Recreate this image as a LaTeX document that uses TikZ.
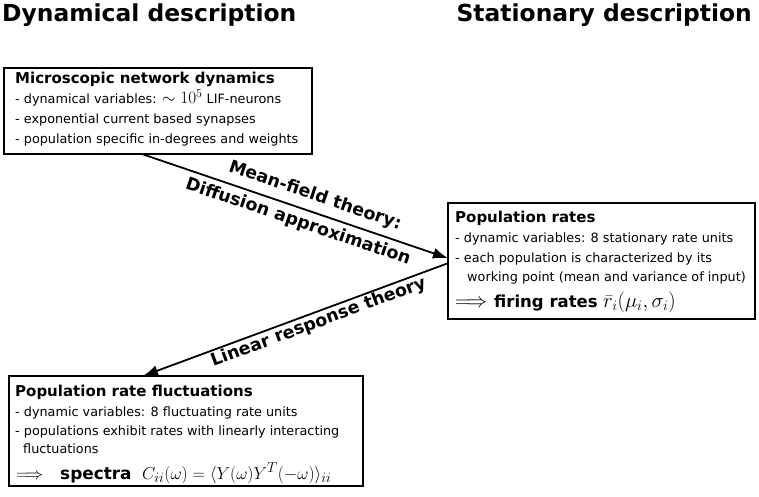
\documentclass[tikz,border=0pt]{standalone}
\usepackage{fontspec}
\setmainfont{DejaVu Sans}
\usetikzlibrary{arrows.meta}
\begin{document}
\begin{tikzpicture}[x=1pt,y=1pt,
  box/.style={draw, line width=1.2pt, inner sep=0pt},
  ln/.style={anchor=base west, inner sep=0pt, font=\fontsize{12.8}{15}\selectfont},
  tl/.style={anchor=base west, inner sep=0pt, font=\bfseries\fontsize{15}{18}\selectfont},
  heading/.style={font=\bfseries\fontsize{23.4}{28}\selectfont, inner sep=0pt},
  conn/.style={line width=1.8pt, -{Latex[length=15pt,width=11pt]}},
  lab/.style={font=\bfseries\fontsize{17.4}{20}\selectfont, inner sep=0pt, anchor=center}]
\useasboundingbox (0,0) rectangle (759,-497);

\node[heading, anchor=base west] (dyn) at (2,-22) {Dynamical description};
\node[heading, anchor=base east] (stat) at (752,-22) {Stationary description};

% boxes
\draw[box] (4,-68) rectangle (312,-154);
\node[inner sep=0pt, minimum width=308pt, minimum height=86pt, anchor=north west] (micro) at (4,-68) {};
\draw[box] (448,-203) rectangle (755,-319);
\node[inner sep=0pt, minimum width=307pt, minimum height=116pt, anchor=north west] (rates) at (448,-203) {};
\draw[box] (9,-376) rectangle (363,-486);
\node[inner sep=0pt, minimum width=354pt, minimum height=110pt, anchor=north west] (fluct) at (9,-376) {};

% box 1 text
\node[tl] (m0) at (15,-84) {Microscopic network dynamics};
\node[ln] (m1) at (15,-104) {- dynamical variables: {\fontsize{18}{18}\selectfont$\sim 10^5$} LIF-neurons};
\node[ln] (m2) at (15,-124) {- exponential current based synapses};
\node[ln] (m3) at (15,-143) {- population specific in-degrees and weights};

% box 2 text
\node[tl] (r0) at (455,-222) {Population rates};
\node[ln] (r1) at (455,-242) {- dynamic variables: 8 stationary rate units};
\node[ln] (r2) at (455,-262) {- each population is characterized by its};
\node[ln] (r3) at (467,-281) {working point (mean and variance of input)};
\node[ln, font=\fontsize{22.5}{24}\selectfont] (r4a) at (455,-307) {$\Longrightarrow$};
\node[ln, font=\bfseries\fontsize{16.5}{20}\selectfont] (r4b) at (494,-307) {firing rates};
\node[ln, font=\fontsize{22.5}{24}\selectfont] (r4c) at (603,-307) {$\bar r_i(\mu_i,\sigma_i)$};

% box 3 text
\node[tl] (f0) at (15,-396) {Population rate fluctuations};
\node[ln] (f1) at (15,-416) {- dynamic variables: 8 fluctuating rate units};
\node[ln] (f2) at (15,-435) {- populations exhibit rates with linearly interacting};
\node[ln] (f3) at (23,-453) {fluctuations};
\node[ln, font=\fontsize{16}{18}\selectfont] (f4a) at (16,-479) {$\Longrightarrow$};
\node[ln, font=\bfseries\fontsize{16.9}{20}\selectfont] (f4b) at (60,-479) {spectra};
\node[ln, font=\fontsize{19}{21}\selectfont] (f4c) at (142,-479) {$C_{ii}(\omega)=\langle Y(\omega)Y^T(-\omega)\rangle_{ii}$};

% connectors
\coordinate (a1s) at ([xshift=139pt]micro.south west);
\coordinate (a1e) at ([yshift=3pt]rates.west);
\coordinate (a2s) at ([yshift=-2pt]rates.west);
\coordinate (a2e) at ([xshift=134pt]fluct.north west);
\draw[conn] (a1s) -- (a1e);
\draw[conn] (a2s) -- (a2e);

\node[lab, rotate=-18.8] (mf) at (315,-196) {Mean-field theory:};
\node[lab, rotate=-18.8] (diff) at (298,-222) {Diffusion approximation};
\node[lab, rotate=20.3] (lin) at (318.5,-322.5) {Linear response theory};
\end{tikzpicture}
\end{document}
